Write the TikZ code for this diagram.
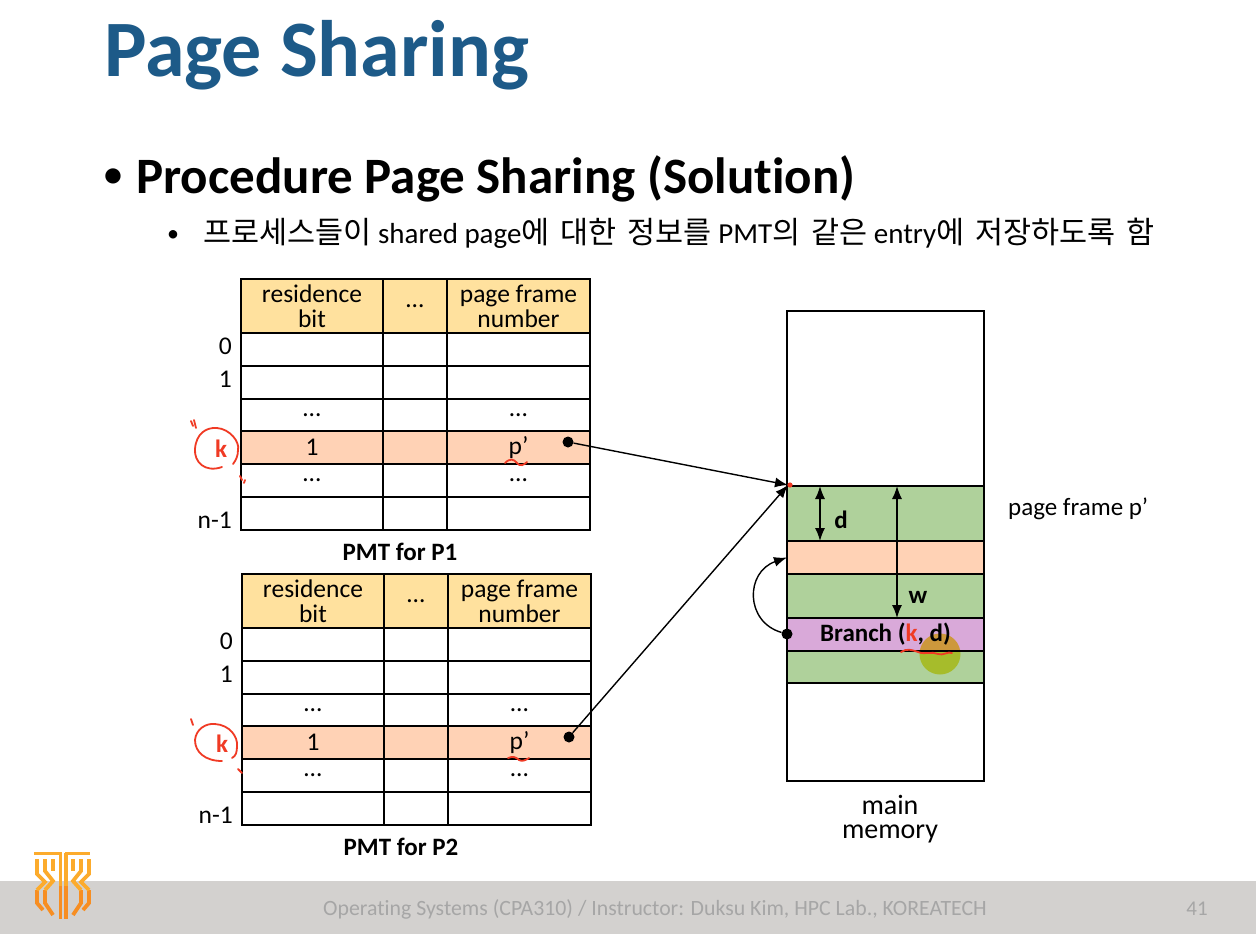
\documentclass[tikz,border=0pt]{standalone}
\usepackage{fontspec}
\setmainfont[Ligatures=NoCommon]{Carlito}
\newfontfamily\krfont[WordSpace=1.6]{Noto Sans CJK KR}
\usepackage{tikz}
\usetikzlibrary{calc,arrows.meta}
\definecolor{titleblue}{HTML}{1D5A88}
\definecolor{headbg}{HTML}{FFE19E}
\definecolor{peach}{HTML}{FFD2B5}
\definecolor{framegreen}{HTML}{AFD19B}
\definecolor{branchpurple}{HTML}{D9A9D9}
\definecolor{footgray}{HTML}{D3D1CF}
\definecolor{foottext}{HTML}{A6A6A6}
\definecolor{inkred}{HTML}{F03A24}
\definecolor{logoorange}{HTML}{FCAB2C}
\definecolor{logolow}{HTML}{F78E22}
\definecolor{markyellow}{HTML}{F2E647}
\newcommand{\kr}[1]{{\krfont\fontsize{30.5}{32}\selectfont #1}}
\tikzset{
  cellbox/.style={draw=black,line width=1.5pt,inner sep=0pt,outer sep=0pt,align=center,font=\fontsize{25.5}{25}\selectfont},
  plaintext/.style={inner sep=0pt,align=center,font=\fontsize{25.5}{25}\selectfont},
  boldtext/.style={inner sep=0pt,font=\fontsize{25}{25}\selectfont\bfseries},
  ink/.style={draw=inkred,line width=1.8pt,line cap=round},
  dotnode/.style={circle,fill=black,inner sep=0pt,minimum size=11pt},
  memarrow/.style={-{Latex[length=13pt,width=10pt]},line width=1.4pt},
  bothway/.style={{Latex[length=13pt,width=10pt]}-{Latex[length=13pt,width=10pt]},line width=1.4pt},
  logoline/.style={draw=logoorange,line width=3.8pt},
  logolower/.style={draw=logolow,line width=3.8pt}
}
\begin{document}
\begin{tikzpicture}[x=1pt,y=-1pt]
  \useasboundingbox (0,0) rectangle (1256,934);
  \fill[white] (0,0) rectangle (1256,934);
  \fill[footgray] (0,881) rectangle (1256,934);

  % headings
  \node[inner sep=0pt,anchor=base west,text=titleblue,font=\fontsize{80}{81}\selectfont\bfseries] (title) at (104,77) {Page Sharing};
  \node[inner sep=0pt,anchor=base,font=\fontsize{36}{36}\selectfont\bfseries] (bullet1) at (113,186) {•};
  \node[inner sep=0pt,anchor=base west,font=\fontsize{51}{52}\selectfont\bfseries] (head1) at (136,193) {Procedure Page Sharing (Solution)};
  \node[inner sep=0pt,anchor=base,font=\fontsize{24}{24}\selectfont] (bullet2) at (173,241) {•};
  \node[inner sep=0pt,anchor=base west,font=\fontsize{29}{32}\selectfont] (head2) at (203,243)
    {\kr{프로세스들이} shared page\kr{에 대한 정보를} PMT\kr{의 같은} entry\kr{에 저장하도록 함}};

  % the two tables
  \foreach \t/\ox/\oy/\lbl in {pa/0/0/P1,pb/1/295/P2} {
    \foreach \r/\ya/\yb/\rowfill/\ta/\tb/\tc in {
      h/279/333/headbg/{residence\\bit}/{…}/{page frame\\number},
      z/333/366/white/{}/{}/{},
      o/366/399/white/{}/{}/{},
      m/399/431/white/{…}/{}/{…},
      k/431/464/peach/{1}/{}/{p’},
      q/464/497/white/{…}/{}/{…},
      l/497/530/white/{}/{}/{}} {
      \node[cellbox,fill=\rowfill,minimum width=142pt,minimum height={(\yb-\ya)*1pt}] (\t-\r-a) at ({312+\ox},{(\ya+\yb)/2+\oy}) {\ta};
      \node[cellbox,fill=\rowfill,minimum width=64pt,minimum height={(\yb-\ya)*1pt}] (\t-\r-b) at ({415+\ox},{(\ya+\yb)/2+\oy}) {\tb};
      \node[cellbox,fill=\rowfill,minimum width=143pt,minimum height={(\yb-\ya)*1pt}] (\t-\r-c) at ({518.5+\ox},{(\ya+\yb)/2+\oy}) {\tc};
    }
    \node[plaintext,anchor=east] (\t-zero) at ($(\t-z-a.west)+(-9,-3)$) {0};
    \node[plaintext,anchor=east] (\t-one) at ($(\t-o-a.west)+(-9,-3)$) {1};
    \node[plaintext,anchor=east] (\t-last) at ($(\t-l-a.west)+(-9,7)$) {n-1};
    \node[boldtext,text=inkred] (\t-kay) at ($(\t-k-a.west)+(-20,1)$) {k};
    \node[boldtext] (\t-name) at ({400+\ox},{552+\oy}) {PMT for \lbl};
    \node[dotnode] (\t-dot) at ({568+\ox},{442+\oy}) {};
  }

  % main memory
  \node[draw=black,line width=1.5pt,inner sep=0pt,outer sep=0pt,fill=white,minimum width=197pt,minimum height=470pt] (mem) at (885.5,546) {};
  \node[cellbox,fill=framegreen,minimum width=197pt,minimum height=55pt] (band1) at (885.5,513.5) {};
  \node[cellbox,fill=peach,minimum width=197pt,minimum height=33pt] (band2) at (885.5,557.5) {};
  \node[cellbox,fill=framegreen,minimum width=197pt,minimum height=44pt] (band3) at (885.5,596) {};
  \node[cellbox,fill=branchpurple,minimum width=197pt,minimum height=33pt] (band4) at (885.5,634.5) {};
  \node[cellbox,fill=framegreen,minimum width=197pt,minimum height=32pt] (band5) at (885.5,667) {};
  \node[boldtext] (branch) at (885.5,634) {Branch ({\color{inkred}k}, d)};
  \node[plaintext,font=\fontsize{28}{24.5}\selectfont] (memname) at (890,819) {main\\memory};
  \node[plaintext,anchor=west,font=\fontsize{25}{25}\selectfont] (framename) at (1008,509) {page frame p’};
  \node[boldtext] (dname) at (841,520) {d};
  \node[boldtext] (wname) at (918,597) {w};

  % connectors
  \coordinate (frametop) at (788,485);
  \coordinate (dtop) at (820,486);
  \coordinate (dend) at (820,541);
  \coordinate (wtop) at (897,486);
  \coordinate (wend) at (897,618);
  \node[dotnode] (branchdot) at (787,634) {};
  \draw[memarrow] (pa-dot) -- (frametop);
  \draw[memarrow] (pb-dot) -- (frametop);
  \draw[bothway] (dtop) -- (dend);
  \draw[bothway] (wtop) -- (wend);
  \draw[memarrow] (branchdot) .. controls (745,622) and (745,572) .. (band2.west);

  % pen marks
  \fill[markyellow,blend mode=multiply] (940,654) circle (20.5);
  \fill[inkred] (790,485) circle (2.6);
  \draw[ink] (222,467) .. controls (205,473) and (194,462) .. (195,449) .. controls (196,434) and (206,427) .. (217,428) .. controls (230,429) and (240,442) .. (238,450) .. controls (238,456) and (236,460) .. (233,464);
  \draw[ink] (191,421) -- (193,426);
  \draw[ink] (194,420) -- (196,428);
  \draw[ink] (240,476) -- (242,480);
  \draw[ink] (245,480) -- (244,483);
  \draw[ink] (222,761) .. controls (205,761) and (195,752) .. (195,740) .. controls (196,729) and (206,723) .. (215,724) .. controls (230,725) and (238,737) .. (237,746) .. controls (237,752) and (236,756) .. (232,758);
  \draw[ink] (191,719) -- (193,725);
  \draw[ink] (238,769) -- (242,773);
  \draw[ink] (505,463) .. controls (510,458) and (514,459) .. (517,463) .. controls (520,467) and (524,465) .. (527,462);
  \draw[ink] (508,758) .. controls (513,756) and (516,757) .. (519,760) .. controls (522,762) and (526,760) .. (529,758);
  \draw[ink] (901,652) .. controls (907,648) and (912,650) .. (918,652) .. controls (925,655) and (932,651) .. (938,654) .. controls (943,656) and (948,651) .. (952,653);

  % logo
  \draw[logolower] (60.5,885) -- (60.5,919);
  \draw[logolower] (66,885) -- (66,919);
  \draw[logolower] (37,890) -- (37,903) -- (43,910);
  \draw[logolower] (45,890) -- (45,903) -- (53,915);
  \draw[logolower] (89,890) -- (89,903) -- (83,910);
  \draw[logolower] (81,890) -- (81,903) -- (73,915);
  \draw[logoline] (34,853.5) -- (62,853.5);
  \draw[logoline] (65,853.5) -- (90,853.5);
  \draw[logoline] (60.5,853) -- (60.5,886);
  \draw[logoline] (66,853) -- (66,886);
  \draw[logoline] (37,859) -- (37,874) -- (45,882) -- (37,890);
  \draw[logoline] (45,859) -- (45,871) -- (53,881) -- (45,890);
  \draw[logoline] (53,859) -- (53,871);
  \draw[logoline] (89,859) -- (89,874) -- (81,882) -- (89,890);
  \draw[logoline] (81,859) -- (81,871) -- (73,881) -- (81,890);
  \draw[logoline] (73,859) -- (73,871);

  % footer
  \node[inner sep=0pt,text=foottext,font=\fontsize{21.8}{22}\selectfont] (foot) at (655,909) {Operating Systems (CPA310) / Instructor: Duksu Kim, HPC Lab., KOREATECH};
  \node[inner sep=0pt,text=foottext,font=\fontsize{21}{22}\selectfont] (pageno) at (1197,909) {41};
\end{tikzpicture}
\end{document}
